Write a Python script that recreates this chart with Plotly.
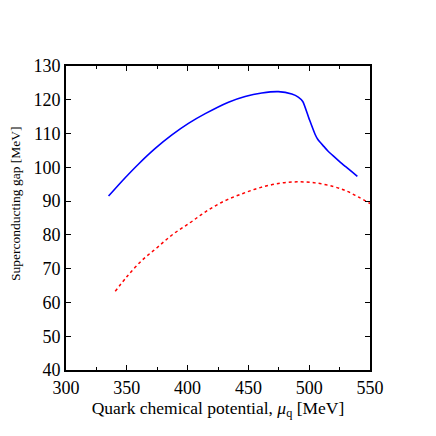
import plotly.graph_objects as go

blue_x = [335, 346.0, 359.7, 373.4, 387.1, 400.7, 414.5, 433.6, 447.3, 461.0, 474.7, 485.7,
          491, 494.7, 499.8, 504.8, 507, 509, 512, 515, 520, 525, 530, 535, 539.6]
blue_y = [91.5, 95.9, 101.0, 105.6, 109.6, 113.0, 115.9, 119.3, 121.0, 122.0, 122.4, 121.7,
          120.8, 119.5, 114.5, 109.8, 108.3, 107.4, 106.2, 105.0, 103.3, 101.7, 100.2, 98.7, 97.3]

red_x = [340.5, 350, 362, 374.8, 388, 402, 415, 429.5, 445, 459.7, 476, 490, 505, 520, 530, 540, 550]
red_y = [63.3, 67.6, 72.3, 76.2, 80.2, 83.6, 86.9, 89.9, 92.2, 94.0, 95.3, 95.7, 95.4, 94.3, 93.1, 91.3, 89.3]

x_ticks = [300, 350, 400, 450, 500, 550]
y_ticks = [40, 50, 60, 70, 80, 90, 100, 110, 120, 130]

fam = "Liberation Serif"

fig = go.Figure()
fig.add_trace(go.Scatter(x=blue_x, y=blue_y, mode="lines",
                         line=dict(color="#0000ff", width=1.6, shape="spline", smoothing=0.6)))
fig.add_trace(go.Scatter(x=red_x, y=red_y, mode="lines",
                         line=dict(color="#ff0000", width=1.5, dash="dot", shape="spline")))

fig.update_layout(
    width=436, height=436,
    margin=dict(l=58, r=74, t=58, b=74),
    paper_bgcolor="white", plot_bgcolor="white",
    showlegend=False,
    font=dict(family=fam, color="black"),
    annotations=[dict(text="Superconducting gap [MeV]", xref="paper", yref="paper",
                      x=-0.168, y=0.546, textangle=-90, showarrow=False,
                      xanchor="center", yanchor="middle",
                      font=dict(size=13.5, family=fam, color="black"))],
)
fig.update_xaxes(
    range=[300, 550], tickvals=x_ticks, ticks="inside", ticklen=5, tickcolor="black",
    mirror="allticks", showline=True, linecolor="black", linewidth=2, showgrid=False,
    zeroline=False, tickfont=dict(size=18, family=fam, color="black"),
    minor=dict(dtick=25, ticks="inside", ticklen=3, tickcolor="black"),
    title=dict(text="Quark chemical potential, <i>μ</i><sub>q</sub> [MeV]",
               font=dict(size=17.5, family=fam, color="black"), standoff=4),
)
fig.update_yaxes(
    range=[40, 130], tickvals=y_ticks, ticks="inside", ticklen=5, tickcolor="black",
    mirror="allticks", showline=True, linecolor="black", linewidth=2, showgrid=False,
    zeroline=False, tickfont=dict(size=18, family=fam, color="black"),
)

fig.write_html("out.html")
